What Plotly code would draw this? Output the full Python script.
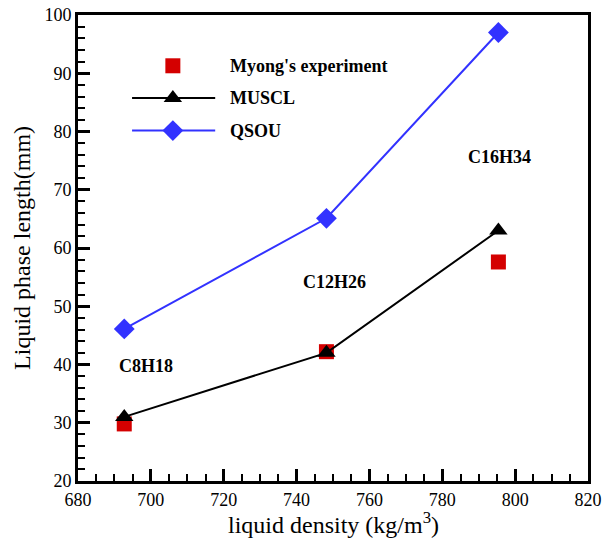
import plotly.graph_objects as go

# liquid density (kg/m^3) for each fuel
density = [692.7, 748.2, 795.4]
fuels = ["C8H18", "C12H26", "C16H34"]

# liquid phase length (mm)
experiment = [29.8, 42.2, 57.6]
muscl = [31.0, 42.0, 63.0]
qsou = [46.1, 65.1, 97.0]

# fuel label anchor positions (data units)
label_x = [698.7, 750.5, 795.6]
label_y = [39.7, 54.2, 75.6]

series_names = ["Myong's experiment", "MUSCL", "QSOU"]

RED = "#d40000"
BLACK = "#000000"
BLUE = "#3232ff"
FONT = "Liberation Serif"

SQ = dict(symbol="square", size=15, color=RED, opacity=1)
TRI = dict(symbol="triangle-up", size=16, color=BLACK, opacity=1)
DIA = dict(symbol="diamond", size=16, color=BLUE, opacity=1)

fig = go.Figure()

fig.add_trace(go.Scatter(x=density, y=experiment, mode="markers",
                         marker=SQ, showlegend=False))
fig.add_trace(go.Scatter(x=density, y=muscl, mode="lines+markers",
                         line=dict(color=BLACK, width=2), marker=TRI,
                         showlegend=False))
fig.add_trace(go.Scatter(x=density, y=qsou, mode="lines+markers",
                         line=dict(color=BLUE, width=2), marker=DIA,
                         showlegend=False))

# hand-built legend on an overlay axis spanning the plot area
leg_rows = [0.891, 0.822, 0.752]
leg_x0, leg_xm, leg_x1, leg_tx = 0.106, 0.186, 0.269, 0.294
fig.add_trace(go.Scatter(
    x=[leg_xm], y=[leg_rows[0]], mode="markers", xaxis="x2", yaxis="y2",
    marker=SQ, showlegend=False, hoverinfo="skip"))
fig.add_trace(go.Scatter(
    x=[leg_x0, leg_x1], y=[leg_rows[1]] * 2, mode="lines",
    xaxis="x2", yaxis="y2", line=dict(color=BLACK, width=2),
    showlegend=False, hoverinfo="skip"))
fig.add_trace(go.Scatter(
    x=[leg_xm], y=[leg_rows[1]], mode="markers", xaxis="x2", yaxis="y2",
    marker=TRI, showlegend=False, hoverinfo="skip"))
fig.add_trace(go.Scatter(
    x=[leg_x0, leg_x1], y=[leg_rows[2]] * 2, mode="lines",
    xaxis="x2", yaxis="y2", line=dict(color=BLUE, width=2),
    showlegend=False, hoverinfo="skip"))
fig.add_trace(go.Scatter(
    x=[leg_xm], y=[leg_rows[2]], mode="markers", xaxis="x2", yaxis="y2",
    marker=DIA, showlegend=False, hoverinfo="skip"))

annotations = []
for name, yy in zip(series_names, leg_rows):
    annotations.append(dict(
        x=leg_tx, y=yy, xref="x2", yref="y2", text="<b>%s</b>" % name,
        showarrow=False, xanchor="left", yanchor="middle",
        font=dict(family=FONT, size=18, color="black")))
for name, xx, yy in zip(fuels, label_x, label_y):
    annotations.append(dict(
        x=xx, y=yy, xref="x", yref="y", text="<b>%s</b>" % name,
        showarrow=False, xanchor="center", yanchor="middle",
        font=dict(family=FONT, size=18, color="black")))

# axis titles
annotations.append(dict(
    x=0.5, y=-0.09, xref="paper", yref="paper",
    text="liquid density (kg/m<sup>3</sup>)", showarrow=False,
    xanchor="center", yanchor="middle",
    font=dict(family=FONT, size=24, color="black")))
annotations.append(dict(
    x=-0.11, y=0.5, xref="paper", yref="paper",
    text="Liquid phase length(mm)", showarrow=False, textangle=-90,
    xanchor="center", yanchor="middle",
    font=dict(family=FONT, size=24, color="black")))

axis_common = dict(
    showgrid=False, zeroline=False, showline=True, linecolor="black",
    linewidth=3, mirror=True, ticks="inside", tickcolor="black",
    tickwidth=2.5, ticklen=12, automargin=False,
    tickfont=dict(family=FONT, size=18, color="black"),
)

fig.update_layout(
    width=605, height=544,
    margin=dict(l=78, r=17, t=15, b=63),
    paper_bgcolor="white", plot_bgcolor="white",
    font=dict(family=FONT, color="black"),
    xaxis=dict(range=[680, 820], dtick=20, tick0=680,
               minor=dict(ticks="inside", ticklen=7, dtick=5, tickwidth=1.5,
                          tickcolor="black"),
               **axis_common),
    yaxis=dict(range=[20, 100], dtick=10, tick0=20,
               minor=dict(ticks="inside", ticklen=7, dtick=2, tickwidth=1.5,
                          tickcolor="black"),
               **axis_common),
    xaxis2=dict(overlaying="x", range=[0, 1], visible=False, fixedrange=True),
    yaxis2=dict(overlaying="y", range=[0, 1], visible=False, fixedrange=True),
    annotations=annotations,
    showlegend=False,
)

fig.write_html("out.html")
